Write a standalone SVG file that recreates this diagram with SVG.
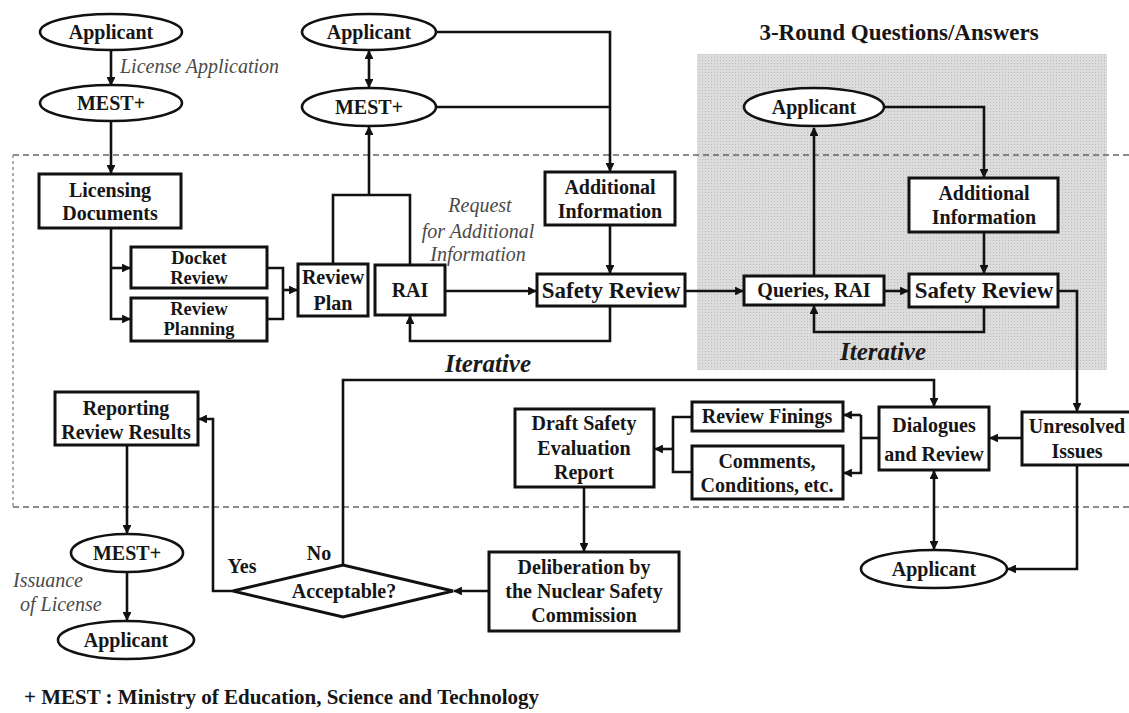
<svg xmlns="http://www.w3.org/2000/svg" width="1129" height="713" viewBox="0 0 1129 713">
<defs>
<marker id="ah" viewBox="0 0 10 10" refX="9" refY="5" markerWidth="3.4" markerHeight="3.4" orient="auto-start-reverse" markerUnits="strokeWidth">
<path d="M0,0 L10,5 L0,10 z" fill="#111"/>
</marker>
<pattern id="dots" width="3" height="3" patternUnits="userSpaceOnUse">
<rect width="3" height="3" fill="#dcdcdc"/>
<rect width="1" height="1" fill="#bdbdbd"/>
</pattern>
</defs>
<style>
.bx{fill:#fff;stroke:#111;stroke-width:3}
.el{fill:#fff;stroke:#111;stroke-width:2.6}
.t{font-family:"Liberation Serif","Times New Roman",serif;font-weight:bold;font-size:20px;fill:#161616;text-anchor:middle}
.big{font-size:23px}
.sm{font-size:18.5px}
.it{font-family:"Liberation Serif","Times New Roman",serif;font-style:italic;font-size:20px;fill:#4a4a4a}
.iter{font-family:"Liberation Serif","Times New Roman",serif;font-style:italic;font-weight:bold;font-size:25px;fill:#1a1a1a;text-anchor:middle}
.c{fill:none;stroke:#111;stroke-width:2.6}
.a{marker-end:url(#ah)}
.d{marker-start:url(#ah);marker-end:url(#ah)}
</style>
<rect width="1129" height="713" fill="#fff"/>
<rect x="697" y="54" width="410" height="316" fill="url(#dots)"/>
<g id="frame" fill="none">
<line x1="13" y1="155" x2="1129" y2="155" stroke="#666" stroke-width="1.6" stroke-dasharray="6,4"/>
<line x1="13" y1="507" x2="1129" y2="507" stroke="#666" stroke-width="1.6" stroke-dasharray="6,4"/>
<line x1="13" y1="155" x2="13" y2="507" stroke="#999" stroke-width="1.6" stroke-dasharray="3,3"/>
</g>
<text class="t big" x="899" y="40">3-Round Questions/Answers</text>

<g id="connectors">
<path class="c a" d="M111,50 V85"/>
<path class="c a" d="M111,122 V173"/>
<path class="c a" d="M111,228 V319 H130"/>
<path class="c a" d="M111,268 H130"/>
<path class="c" d="M267,268 H283 V319 H267"/>
<path class="c a" d="M283,290 H297"/>
<path class="c" d="M333,264 V195 H410 V265"/>
<path class="c a" d="M369,195 V127"/>
<path class="c d" d="M369,51 V87"/>
<path class="c a" d="M437,32 H610 V171"/>
<path class="c" d="M437,107 H610"/>
<path class="c a" d="M610,225 V273"/>
<path class="c a" d="M445,291 H536"/>
<path class="c a" d="M610,306 V341 H410 V316"/>
<path class="c a" d="M685,291 H743"/>
<path class="c a" d="M884,291 H908"/>
<path class="c a" d="M814,276 V128"/>
<path class="c a" d="M884,107 H984 V177"/>
<path class="c a" d="M984,232 V273"/>
<path class="c a" d="M984,307 V332 H814 V306"/>
<path class="c a" d="M1058,291 H1077 V411"/>
<path class="c a" d="M1022,438 H990"/>
<path class="c a" d="M1077,466 V569 H1008"/>
<path class="c d" d="M934,471 V549"/>
<path class="c" d="M879,438 H861"/>
<path class="c a" d="M861,415 H844"/>
<path class="c a" d="M861,415 V473 H844"/>
<path class="c" d="M692,417 H673 V472 H692"/>
<path class="c a" d="M673,449 H655"/>
<path class="c a" d="M584,487 V551"/>
<path class="c a" d="M489,591 H454"/>
<path class="c a" d="M343,565 V380 H934 V406"/>
<path class="c a" d="M233,591 H213 V419 H199"/>
<path class="c a" d="M127,445 V533"/>
<path class="c a" d="M127,573 V620"/>
</g>

<g id="applicant1"><ellipse class="el" cx="111" cy="32" rx="71" ry="18"/><text class="t" x="111" y="39">Applicant</text></g>
<text class="it" x="120" y="73">License Application</text>
<g id="mest1"><ellipse class="el" cx="111" cy="103" rx="71" ry="18"/><text class="t" x="111" y="110">MEST+</text></g>
<g id="licensing"><rect class="bx" x="39" y="174" width="142" height="54"/><text class="t" x="110" y="197">Licensing</text><text class="t" x="110" y="220">Documents</text></g>
<g id="docket"><rect class="bx" x="131" y="247" width="136" height="41"/><text class="t sm" x="199" y="264">Docket</text><text class="t sm" x="199" y="284">Review</text></g>
<g id="reviewplanning"><rect class="bx" x="131" y="298" width="136" height="43"/><text class="t sm" x="199" y="315">Review</text><text class="t sm" x="199" y="335">Planning</text></g>
<g id="reviewplan"><rect class="bx" x="298" y="264" width="70" height="52"/><text class="t" x="333" y="284">Review</text><text class="t" x="333" y="310">Plan</text></g>
<g id="rai"><rect class="bx" x="375" y="265" width="70" height="50"/><text class="t" x="410" y="297">RAI</text></g>
<g id="applicant2"><ellipse class="el" cx="369" cy="32" rx="67" ry="18"/><text class="t" x="369" y="39">Applicant</text></g>
<g id="mest2"><ellipse class="el" cx="369" cy="107" rx="67" ry="19"/><text class="t" x="369" y="114">MEST+</text></g>
<text class="it" text-anchor="middle" x="480" y="212">Request</text>
<text class="it" text-anchor="middle" x="478" y="238">for Additional</text>
<text class="it" text-anchor="middle" x="478" y="261">Information</text>
<g id="addinfo1"><rect class="bx" x="545" y="172" width="130" height="53"/><text class="t" x="610" y="194">Additional</text><text class="t" x="610" y="218">Information</text></g>
<g id="safety1"><rect class="bx" x="537" y="274" width="148" height="32"/><text class="t big" x="611" y="298">Safety Review</text></g>
<text class="iter" x="488" y="372">Iterative</text>
<g id="applicant3"><ellipse class="el" cx="814" cy="107" rx="70" ry="19"/><text class="t" x="814" y="114">Applicant</text></g>
<g id="addinfo2"><rect class="bx" x="909" y="178" width="149" height="54"/><text class="t" x="984" y="200">Additional</text><text class="t" x="984" y="224">Information</text></g>
<g id="queries"><rect class="bx" x="744" y="276" width="140" height="29"/><text class="t" x="814" y="297">Queries, RAI</text></g>
<g id="safety2"><rect class="bx" x="909" y="274" width="149" height="33"/><text class="t big" x="984" y="298">Safety Review</text></g>
<text class="iter" x="883" y="360">Iterative</text>
<g id="unresolved"><rect class="bx" x="1022" y="412" width="110" height="53"/><text class="t" x="1077" y="433">Unresolved</text><text class="t" x="1077" y="458">Issues</text></g>
<g id="dialogues"><rect class="bx" x="879" y="407" width="110" height="63"/><text class="t" x="934" y="432">Dialogues</text><text class="t" x="934" y="461">and Review</text></g>
<g id="findings"><rect class="bx" x="692" y="402" width="151" height="29"/><text class="t" x="767" y="423">Review Finings</text></g>
<g id="comments"><rect class="bx" x="692" y="446" width="151" height="53"/><text class="t" x="767" y="468">Comments,</text><text class="t" x="767" y="492">Conditions, etc.</text></g>
<g id="draft"><rect class="bx" x="515" y="409" width="139" height="78"/><text class="t" x="584" y="430">Draft Safety</text><text class="t" x="584" y="455">Evaluation</text><text class="t" x="584" y="479">Report</text></g>
<g id="applicant4"><ellipse class="el" cx="934" cy="569" rx="73" ry="19"/><text class="t" x="934" y="576">Applicant</text></g>
<g id="deliberation"><rect class="bx" x="489" y="552" width="190" height="79"/><text class="t" x="584" y="574">Deliberation by</text><text class="t" x="584" y="598">the Nuclear Safety</text><text class="t" x="584" y="622">Commission</text></g>
<g id="acceptable"><polygon class="bx" points="233,591 343,565 453,591 343,617"/><text class="t" x="344" y="598">Acceptable?</text></g>
<text class="t" x="319" y="560">No</text>
<text class="t" x="242" y="573">Yes</text>
<g id="reporting"><rect class="bx" x="55" y="392" width="143" height="53"/><text class="t" x="126" y="415">Reporting</text><text class="t" x="126" y="439">Review Results</text></g>
<g id="mest3"><ellipse class="el" cx="127" cy="553" rx="56" ry="19"/><text class="t" x="127" y="560">MEST+</text></g>
<text class="it" x="13" y="587">Issuance</text>
<text class="it" x="20" y="611">of License</text>
<g id="applicant5"><ellipse class="el" cx="126" cy="640" rx="68" ry="19"/><text class="t" x="126" y="647">Applicant</text></g>
<text class="t" x="24" y="704" style="text-anchor:start;font-size:21px">+ MEST : Ministry of Education, Science and Technology</text>
</svg>
